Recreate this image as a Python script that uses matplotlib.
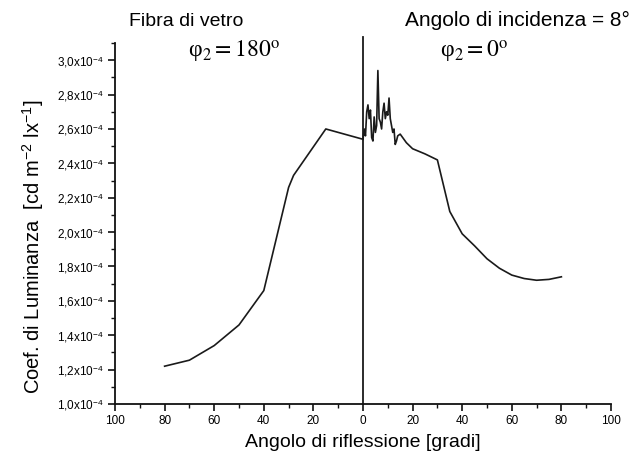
import matplotlib
matplotlib.use("Agg")
import matplotlib.pyplot as plt
from matplotlib.ticker import MultipleLocator, FuncFormatter

plt.rcParams['font.family'] = ['Liberation Sans', 'DejaVu Sans']
plt.rcParams['mathtext.fontset'] = 'stix'

# phi2 = 180 deg side (plotted at negative reflection angles)
left_angle = [-80, -70, -60, -50, -40, -35, -30, -28, -15, 0]
left_coef = [1.22, 1.255, 1.34, 1.46, 1.66, 1.96, 2.26, 2.33, 2.60, 2.54]

# phi2 = 0 deg side
right_angle = [0, 0.5, 1, 1.5, 2, 2.5, 3, 3.5, 4, 4.5, 5, 5.5, 6, 6.5, 7, 7.5,
               8, 8.5, 9, 9.5, 10, 10.5, 11, 11.5, 12, 12.5, 13, 13.5, 14, 15,
               17.5, 20, 25, 30, 35, 40, 45, 50, 55, 60, 65, 70, 75, 80]
right_coef = [2.54, 2.60, 2.56, 2.70, 2.74, 2.66, 2.71, 2.55, 2.53, 2.67, 2.58,
              2.62, 2.94, 2.66, 2.64, 2.60, 2.70, 2.75, 2.66, 2.70, 2.68, 2.78,
              2.66, 2.62, 2.58, 2.60, 2.51, 2.53, 2.56, 2.57, 2.52, 2.485,
              2.455, 2.42, 2.12, 1.99, 1.92, 1.845, 1.79, 1.75, 1.73, 1.72,
              1.725, 1.74]

x_ticks = [-100, -80, -60, -40, -20, 0, 20, 40, 60, 80, 100]
y_ticks = [1.0, 1.2, 1.4, 1.6, 1.8, 2.0, 2.2, 2.4, 2.6, 2.8, 3.0]

fig = plt.figure(figsize=(6.34, 4.66), dpi=100)
ax = fig.add_axes([0.1814, 0.1330, 0.7823, 0.7747])

lc = '#1a1a1a'
ax.plot(left_angle, left_coef, color=lc, lw=1.2)
ax.plot(right_angle, right_coef, color=lc, lw=1.2)
ax.plot([0, 0], [1.0, 3.135], color='#1a1a1a', lw=1.3, clip_on=False)

ax.set_xlim(-100, 100)
ax.set_ylim(1.0, 3.1)
ax.spines['top'].set_visible(False)
ax.spines['right'].set_visible(False)
for s in ('left', 'bottom'):
    ax.spines[s].set_linewidth(1.3)
    ax.spines[s].set_color('#111111')

ax.set_xticks(x_ticks)
ax.xaxis.set_minor_locator(MultipleLocator(10))
ax.xaxis.set_major_formatter(FuncFormatter(lambda v, p: '%d' % abs(round(v))))
ax.set_yticks(y_ticks)
ax.yaxis.set_minor_locator(MultipleLocator(0.1))
ax.yaxis.set_major_formatter(FuncFormatter(
    lambda v, p: ('%.1f' % v).replace('.', ',') + r'x10$^{\mathregular{-4}}$'))

ax.tick_params(which='major', length=5, width=1.2, direction='out',
               labelsize=8.5, color='#111111', pad=3)
ax.tick_params(which='minor', length=3, width=1.0, direction='out', color='#111111')

ax.set_xlabel('Angolo di riflessione [gradi]', fontsize=14, labelpad=5)
fig.text(0.052, 0.47,
         r'Coef. di Luminanza  [cd m$^{\mathregular{-2}}$ lx$^{\mathregular{-1}}$]',
         rotation=90, fontsize=14.5, ha='center', va='center')

fig.text(0.203, 0.953, 'Fibra di vetro', fontsize=14, ha='left', va='center')
fig.text(0.994, 0.957, 'Angolo di incidenza = 8°', fontsize=15, ha='right', va='center')
fig.text(0.369, 0.888, r'φ$_2 = 180^{\mathrm{o}}$', fontsize=17,
         family=['Liberation Serif', 'DejaVu Serif'], ha='center', va='center')
fig.text(0.748, 0.888, r'φ$_2 = 0^{\mathrm{o}}$', fontsize=17,
         family=['Liberation Serif', 'DejaVu Serif'], ha='center', va='center')

fig.savefig('out.png', dpi=100)
